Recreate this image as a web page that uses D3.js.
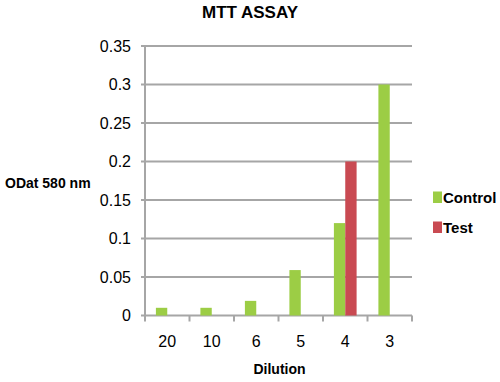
<!DOCTYPE html>
<html><head><meta charset="utf-8">
<script src="https://cdn.jsdelivr.net/npm/d3@7"></script>
<style>body{margin:0;background:#fff}svg{display:block;font-family:"Liberation Sans",Arial,sans-serif}</style>
</head><body><svg id="c" width="500" height="382"></svg>
<script>
const categories = ["20","10","6","5","4","3"];
const controlValues = [0.01, 0.01, 0.019, 0.059, 0.12, 0.30];
const testValues = [null, null, null, null, 0.2, null];
const yTicks = [0,0.05,0.1,0.15,0.2,0.25,0.3,0.35];
const yTickLabels = ["0","0.05","0.1","0.15","0.2","0.25","0.3","0.35"];
const seriesNames = ["Control","Test"];
const colors = ["#9ccd45","#c94a52"];

const svg = d3.select("#c");
const L = 145, R = 412, T = 46, B = 315.5;
const x = d3.scaleBand().domain(categories).range([L,R]).paddingInner(0.49).paddingOuter(0.245);
const xs = d3.scaleBand().domain(seriesNames).range([0,x.bandwidth()]);
const y = d3.scaleLinear().domain([0,0.35]).range([B,T]);

svg.append("g").selectAll("line").data(yTicks).join("line")
  .attr("x1",L-4).attr("x2",R).attr("y1",d=>y(d)).attr("y2",d=>y(d))
  .attr("stroke","#a6a6a6").attr("stroke-width",2);
svg.append("line").attr("x1",L).attr("x2",L).attr("y1",T).attr("y2",B+5)
  .attr("stroke","#a6a6a6").attr("stroke-width",2);
const band = (R-L)/categories.length;
svg.append("g").selectAll("line").data(d3.range(categories.length+1)).join("line")
  .attr("x1",i=>L+i*band).attr("x2",i=>L+i*band).attr("y1",B).attr("y2",B+6)
  .attr("stroke","#a6a6a6").attr("stroke-width",2);

const rows = categories.map((c,i)=>({c, vals:[controlValues[i],testValues[i]]}));
const g = svg.append("g").selectAll("g").data(rows).join("g").attr("transform",d=>`translate(${x(d.c)},0)`);
g.selectAll("rect").data(d=>d.vals.map((v,j)=>({v,j})).filter(e=>e.v!=null)).join("rect")
  .attr("x",e=>xs(seriesNames[e.j])).attr("width",xs.bandwidth())
  .attr("y",e=>y(e.v)).attr("height",e=>B-y(e.v)).attr("fill",e=>colors[e.j]);

svg.append("g").selectAll("text").data(yTicks).join("text")
  .attr("x",L-14).attr("y",d=>y(d)).attr("dy","0.35em").attr("text-anchor","end")
  .attr("font-size",16).attr("fill","#000").text((d,i)=>yTickLabels[i]);
svg.append("g").selectAll("text").data(categories).join("text")
  .attr("x",d=>x(d)+x.bandwidth()/2).attr("y",347).attr("text-anchor","middle")
  .attr("font-size",16).text(d=>d);

svg.append("text").attr("x",250).attr("y",18).attr("text-anchor","middle")
  .attr("font-size",17).attr("font-weight","bold").text("MTT ASSAY");
svg.append("text").attr("x",279.5).attr("y",374).attr("text-anchor","middle")
  .attr("font-size",14).attr("font-weight","bold").text("Dilution");
svg.append("text").attr("x",5).attr("y",187.5)
  .attr("font-size",14).attr("font-weight","bold").text("ODat 580 nm");

const lg = svg.append("g").selectAll("g").data(seriesNames).join("g")
  .attr("transform",(d,i)=>`translate(433,${197.5+i*30})`);
lg.append("rect").attr("x",0).attr("y",-6).attr("width",9).attr("height",11.5).attr("fill",(d,i)=>colors[i]);
lg.append("text").attr("x",10).attr("y",0).attr("dy","0.35em").attr("font-size",15)
  .attr("font-weight","bold").text(d=>d);
</script></body></html>
